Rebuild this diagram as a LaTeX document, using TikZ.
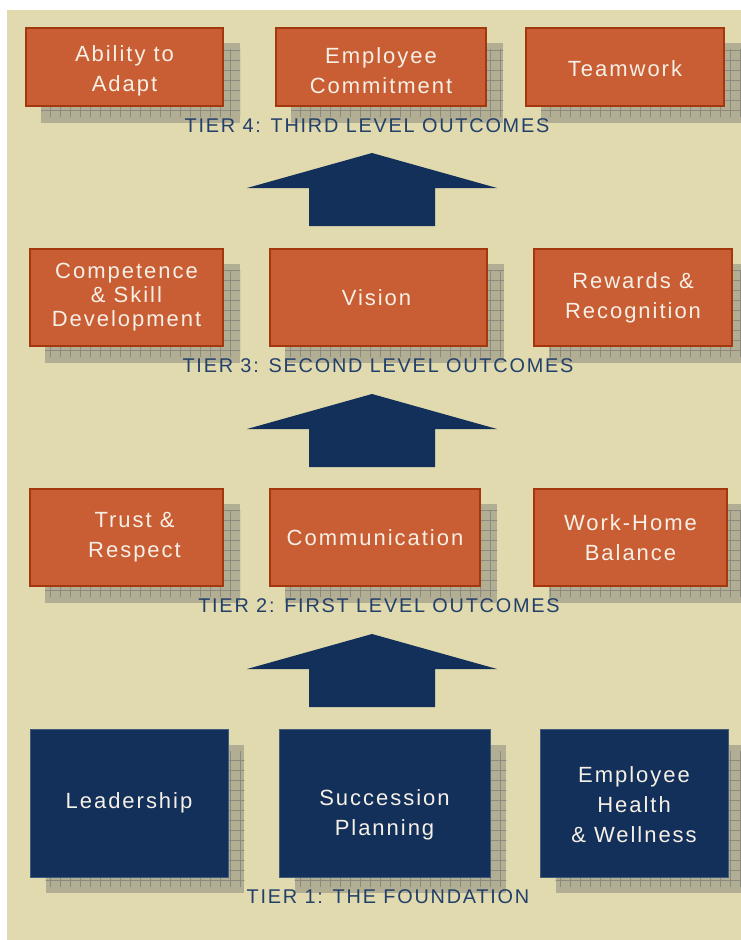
\documentclass[tikz,border=0pt]{standalone}
\usepackage{fontspec}
\setmainfont{Liberation Sans}[LetterSpace=9]
\usetikzlibrary{backgrounds}

\definecolor{pagebg}{HTML}{E0DAAE}
\definecolor{rust}{HTML}{C95E35}
\definecolor{rustline}{HTML}{A3380E}
\definecolor{navy}{HTML}{12305A}
\definecolor{shadowfill}{HTML}{B2AE94}
\definecolor{shadowgrid}{HTML}{8C897E}
\definecolor{labeltext}{HTML}{22406A}
\definecolor{boxtext}{HTML}{F6F0E6}

\tikzset{
	outcome/.style={draw=rustline, line width=1.5pt, fill=rust, text=boxtext, align=center, inner sep=0pt, font=\fontsize{16.5}{22.5}\selectfont},
	foundation/.style={draw=navy!80!white, line width=0.6pt, fill=navy, text=boxtext, align=center, inner sep=0pt, font=\fontsize{16.5}{22.5}\selectfont},
	tierlabel/.style={text=labeltext, inner sep=0pt, font=\fontsize{14.9}{17}\selectfont},
	gridshadow/.style={fill=shadowfill},
}

\begin{document}
\begin{tikzpicture}[x=0.75pt, y=-0.75pt]
		\useasboundingbox (0,0) rectangle (741,940);

		% tier 4
		\node[outcome, minimum width=147.75pt, minimum height=58.5pt] (adapt) at (124.5,67) {\rule{0pt}{18pt}Ability to\\Adapt};
		\node[outcome, minimum width=157.5pt, minimum height=58.5pt] (commit) at (381,67) {\rule{0pt}{18pt}Employee\hspace{7.5pt}\\Commitment\hspace{7.5pt}};
		\node[outcome, minimum width=148.5pt, minimum height=58.5pt] (team) at (625,67) {\rule{0pt}{15pt}Teamwork};
		\node[tierlabel] (tierfour) at (367,125.5) {TIER 4: THIRD LEVEL OUTCOMES};

		% tier 3
		\node[outcome, minimum width=144.75pt, minimum height=72.75pt, font=\fontsize{16.5}{18}\selectfont] (skill) at (126.5,297.5) {Competence\\\& Skill\\Development};
		\node[outcome, minimum width=162.75pt, minimum height=72.75pt] (vision) at (378.5,297.5) {Vision\hspace{3pt}};
		\node[outcome, minimum width=148.5pt, minimum height=72.75pt] (reward) at (633,297.5) {Rewards \&\hspace{12pt}\\Recognition\hspace{12pt}};
		\node[tierlabel] (tierthree) at (378,366) {TIER 3: SECOND LEVEL OUTCOMES};

		% tier 2
		\node[outcome, minimum width=144.75pt, minimum height=72.75pt] (trust) at (126.5,537.5) {\hspace{12pt}Trust \&\\\hspace{12pt}Respect};
		\node[outcome, minimum width=157.5pt, minimum height=72.75pt] (comm) at (375,537.5) {Communication};
		\node[outcome, minimum width=144.75pt, minimum height=72.75pt] (balance) at (630.5,537.5) {Work-Home\hspace{6.75pt}\\Balance\hspace{6.75pt}};
		\node[tierlabel] (tiertwo) at (379,606) {TIER 2: FIRST LEVEL OUTCOMES};

		% tier 1
		\node[foundation, minimum width=148.5pt, minimum height=111pt] (lead) at (129,803) {Leadership};
		\node[foundation, minimum width=158.25pt, minimum height=111pt] (succ) at (384.5,803) {\rule{0pt}{30pt}Succession\\Planning};
		\node[foundation, minimum width=141pt, minimum height=111pt] (health) at (634,803) {\rule{0pt}{15pt}Employee\\Health\\\& Wellness};
		\node[tierlabel] (tierone) at (388,897) {TIER 1: THE FOUNDATION};

		% arrows between tiers
		\foreach \t in {153,394,634}
			\fill[navy] (309,\t+73) -- (309,\t+35) -- (247,\t+35) -- (372,\t) -- (497,\t+35) -- (435,\t+35) -- (435,\t+73) -- cycle;

		\begin{scope}[on background layer]
			\fill[pagebg] (7,10) rectangle (741,940);
			\foreach \n in {adapt,commit,team,skill,vision,reward,trust,comm,balance,lead,succ,health}{
				\begin{scope}
					\clip ([shift={(16,16)}]\n.south west) rectangle ([shift={(16,16)}]\n.north east);
					\fill[gridshadow] ([shift={(16,16)}]\n.south west) rectangle ([shift={(16,16)}]\n.north east);
					\draw[shadowgrid, line width=0.6pt, step=7.5pt] ([shift={(10,10)}]\n.south west) grid ([shift={(22,22)}]\n.north east);
				\end{scope}
			}
		\end{scope}
	\end{tikzpicture}
\end{document}
